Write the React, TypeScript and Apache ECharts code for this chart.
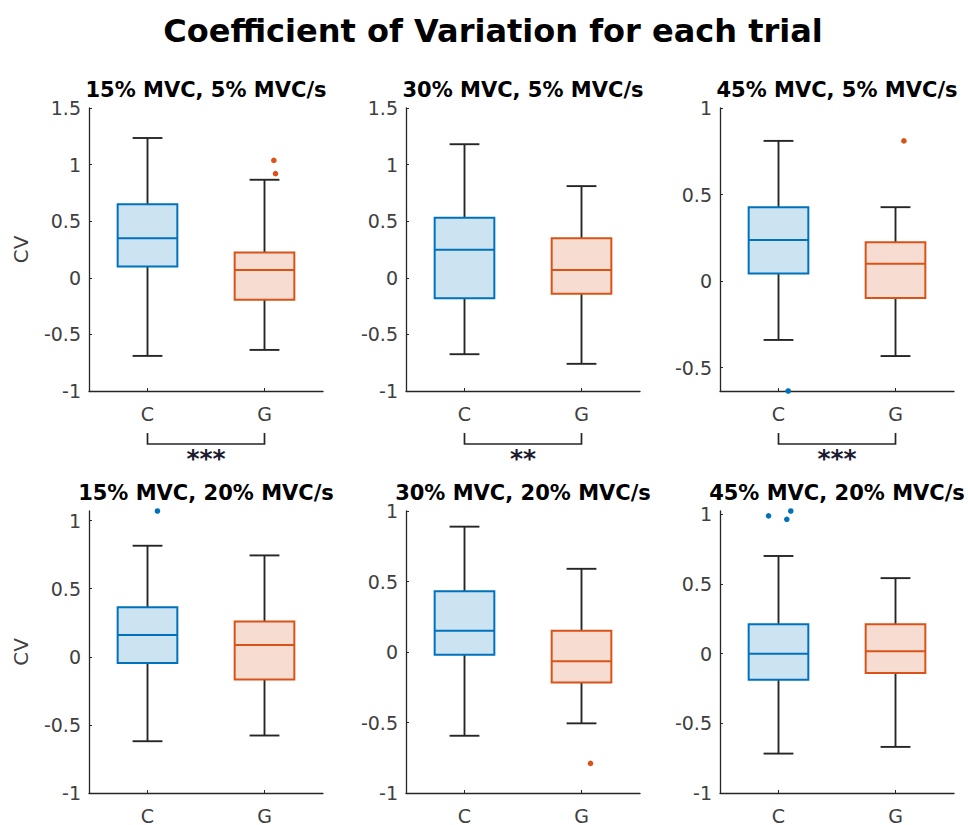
import React, { useEffect, useRef } from "react";
import * as echarts from "echarts";

// ---------- data ----------
const mainTitle = "Coefficient of Variation for each trial";
const panelTitles = [
  "15% MVC, 5% MVC/s",
  "30% MVC, 5% MVC/s",
  "45% MVC, 5% MVC/s",
  "15% MVC, 20% MVC/s",
  "30% MVC, 20% MVC/s",
  "45% MVC, 20% MVC/s",
];
const groups = ["C", "G"];
// [lower whisker, Q1, median, Q3, upper whisker]
const cStats = [
  [-0.69, 0.1, 0.35, 0.65, 1.235],
  [-0.675, -0.18, 0.247, 0.53, 1.18],
  [-0.34, 0.044, 0.238, 0.427, 0.81],
  [-0.62, -0.046, 0.16, 0.364, 0.815],
  [-0.594, -0.02, 0.15, 0.431, 0.889],
  [-0.717, -0.186, 0.0, 0.212, 0.702],
];
const gStats = [
  [-0.637, -0.195, 0.068, 0.223, 0.866],
  [-0.76, -0.14, 0.068, 0.35, 0.81],
  [-0.433, -0.098, 0.1, 0.225, 0.427],
  [-0.578, -0.166, 0.086, 0.259, 0.744],
  [-0.506, -0.217, -0.065, 0.15, 0.59],
  [-0.669, -0.138, 0.017, 0.212, 0.543],
];
// outliers: [group index, value, horizontal jitter in category units]
const outliers1 = [[1, 1.037, 0.08], [1, 0.92, 0.094]];
const outliers2: number[][] = [];
const outliers3 = [[0, -0.635, 0.083], [1, 0.81, 0.072]];
const outliers4 = [[0, 1.07, 0.085]];
const outliers5 = [[1, -0.79, 0.077]];
const outliers6 = [[0, 0.99, -0.085], [0, 0.965, 0.071], [0, 1.025, 0.105]];
const outlierSets = [outliers1, outliers2, outliers3, outliers4, outliers5, outliers6];

const yMins = [-1, -1, -0.635, -1, -1, -1];
const yMaxs = [1.5, 1.5, 1, 1.07, 1, 1.025];
const ticksWide = [-1, -0.5, 0, 0.5, 1, 1.5];
const ticksShort = [-0.5, 0, 0.5, 1];
const ticksStd = [-1, -0.5, 0, 0.5, 1];
const yTickSets = [ticksWide, ticksWide, ticksShort, ticksStd, ticksStd, ticksStd];
const yAxisNames = ["CV", "", "", "CV", "", ""];
const sigLabels = ["***", "**", "***", "", "", ""];

// ---------- styles ----------
const FONT = '"DejaVu Sans", "Liberation Sans", sans-serif';
const lineColors = ["#0072BD", "#D95319"];
const fillColors = ["#CCE3F2", "#F7DDD1"];
const whiskerColor = "#262626";
const axisColor = "#262626";
const labelColor = "#404040";

const colLeft = [89, 406, 720];
const colWidth = 234;
const rowTop = [108, 511];
const rowHeight = [283, 282];

function buildOption() {
  const grid: any[] = [];
  const xAxis: any[] = [];
  const yAxis: any[] = [];
  const series: any[] = [];
  const graphic: any[] = [];

  graphic.push({
    type: "text",
    x: 493,
    y: 31,
    style: {
      text: mainTitle,
      fill: "#000",
      fontFamily: FONT,
      fontWeight: "bold",
      fontSize: 32,
      align: "center",
      verticalAlign: "middle",
    },
  });

  for (let i = 0; i < 6; i++) {
    const row = Math.floor(i / 3);
    const col = i % 3;
    grid.push({
      left: colLeft[col],
      top: rowTop[row],
      width: colWidth,
      height: rowHeight[row],
      outerBoundsMode: "none",
    });
    graphic.push({
      type: "text",
      x: colLeft[col] + colWidth / 2,
      y: rowTop[row] - 18,
      style: {
        text: panelTitles[i],
        fill: "#000",
        fontFamily: FONT,
        fontWeight: "bold",
        fontSize: 21,
        align: "center",
        verticalAlign: "middle",
      },
    });
    xAxis.push({
      type: "category",
      gridIndex: i,
      data: groups,
      axisLine: { show: true, onZero: false, lineStyle: { color: axisColor, width: 1.3 } },
      axisTick: { show: true, inside: true, alignWithLabel: true, length: 3, lineStyle: { color: axisColor } },
      axisLabel: { color: labelColor, fontFamily: FONT, fontSize: 19, margin: 13 },
      splitLine: { show: false },
    });
    yAxis.push({
      type: "value",
      gridIndex: i,
      min: yMins[i],
      max: yMaxs[i],
      name: yAxisNames[i],
      nameLocation: "middle",
      nameGap: 58,
      nameRotate: 90,
      nameTextStyle: { color: labelColor, fontFamily: FONT, fontSize: 20 },
      axisLine: { show: true, lineStyle: { color: axisColor, width: 1.3 } },
      axisTick: {
        show: true,
        inside: true,
        length: 3,
        customValues: yTickSets[i],
        lineStyle: { color: axisColor },
      },
      axisLabel: {
        color: labelColor,
        fontFamily: FONT,
        fontSize: 19,
        margin: 8,
        customValues: yTickSets[i],
        formatter: (v: number) => String(Math.round(v * 100) / 100),
      },
      splitLine: { show: false },
    });

    const boxData = [
      [0, ...cStats[i]],
      [1, ...gStats[i]],
    ];
    series.push({
      type: "custom",
      xAxisIndex: i,
      yAxisIndex: i,
      data: boxData,
      encode: { x: 0, y: [1, 2, 3, 4, 5] },
      clip: false,
      renderItem: (params: any, api: any) => {
        const cat = api.value(0);
        const vMin = api.value(1);
        const vQ1 = api.value(2);
        const vMed = api.value(3);
        const vQ3 = api.value(4);
        const vMax = api.value(5);
        const cx = api.coord([cat, vMed])[0];
        const band = api.size([1, 0])[0];
        const bw = band * 0.51;
        const yMin = api.coord([cat, vMin])[1];
        const yQ1 = api.coord([cat, vQ1])[1];
        const yMed = api.coord([cat, vMed])[1];
        const yQ3 = api.coord([cat, vQ3])[1];
        const yMax = api.coord([cat, vMax])[1];
        const wStyle = { stroke: whiskerColor, lineWidth: 1.9 };
        return {
          type: "group",
          children: [
            { type: "line", shape: { x1: cx, y1: yQ3, x2: cx, y2: yMax }, style: wStyle },
            { type: "line", shape: { x1: cx, y1: yQ1, x2: cx, y2: yMin }, style: wStyle },
            { type: "line", shape: { x1: cx - bw / 4, y1: yMax, x2: cx + bw / 4, y2: yMax }, style: wStyle },
            { type: "line", shape: { x1: cx - bw / 4, y1: yMin, x2: cx + bw / 4, y2: yMin }, style: wStyle },
            {
              type: "rect",
              shape: { x: cx - bw / 2, y: yQ3, width: bw, height: yQ1 - yQ3 },
              style: { fill: fillColors[cat], stroke: lineColors[cat], lineWidth: 2 },
            },
            {
              type: "line",
              shape: { x1: cx - bw / 2, y1: yMed, x2: cx + bw / 2, y2: yMed },
              style: { stroke: lineColors[cat], lineWidth: 2 },
            },
          ],
        };
      },
    });

    if (outlierSets[i].length) {
      series.push({
        type: "custom",
        xAxisIndex: i,
        yAxisIndex: i,
        data: outlierSets[i],
        encode: { x: 0, y: 1 },
        clip: false,
        renderItem: (params: any, api: any) => {
          const cat = api.value(0);
          const v = api.value(1);
          const jit = api.value(2);
          const p = api.coord([cat, v]);
          const band = api.size([1, 0])[0];
          return {
            type: "circle",
            shape: { cx: p[0] + jit * band, cy: p[1], r: 2.8 },
            style: { fill: lineColors[cat] },
          };
        },
      });
    }

    if (sigLabels[i]) {
      const label = sigLabels[i];
      const yBase = yMins[i];
      series.push({
        type: "custom",
        xAxisIndex: i,
        yAxisIndex: i,
        data: [[0, yBase]],
        encode: { x: 0, y: 1 },
        clip: false,
        renderItem: (params: any, api: any) => {
          const p0 = api.coord([0, yBase]);
          const p1 = api.coord([1, yBase]);
          const yb = p0[1];
          return {
            type: "group",
            children: [
              {
                type: "polyline",
                shape: {
                  points: [
                    [p0[0], yb + 42],
                    [p0[0], yb + 53],
                    [p1[0], yb + 53],
                    [p1[0], yb + 42],
                  ],
                },
                style: { stroke: whiskerColor, lineWidth: 1.7, fill: "none" },
              },
              {
                type: "text",
                x: (p0[0] + p1[0]) / 2,
                y: yb + 67,
                style: {
                  text: label,
                  fill: "#1c1c30",
                  fontFamily: FONT,
                  fontWeight: "bold",
                  fontSize: 25,
                  align: "center",
                  verticalAlign: "middle",
                },
              },
            ],
          };
        },
      });
    }
  }

  return {
    animation: false,
    backgroundColor: "#fff",
    grid,
    xAxis,
    yAxis,
    series,
    graphic,
  };
}

export default function App() {
  const ref = useRef<HTMLDivElement>(null);
  useEffect(() => {
    if (!ref.current) return;
    const chart = echarts.init(ref.current, undefined, { renderer: "svg" });
    chart.setOption(buildOption() as any);
    return () => chart.dispose();
  }, []);
  return (
    <div
      ref={ref}
      style={{ position: "absolute", left: 0, top: 0, width: 968, height: 825 }}
    />
  );
}
